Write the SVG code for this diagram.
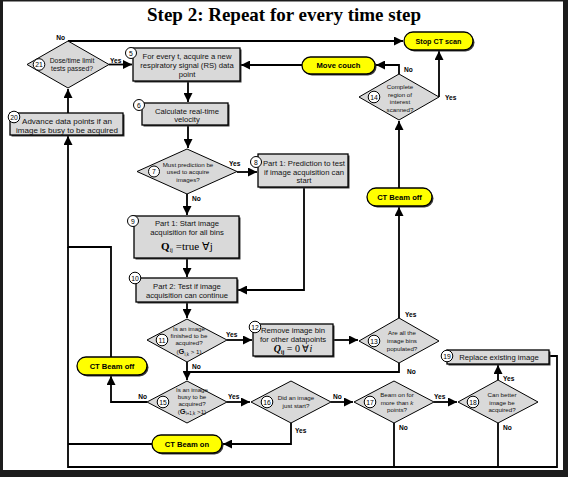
<svg xmlns="http://www.w3.org/2000/svg" width="568" height="477" viewBox="0 0 568 477">
<defs>
<marker id="ah" viewBox="0 0 10 10" refX="10" refY="5" markerWidth="9" markerHeight="9" markerUnits="userSpaceOnUse" orient="auto"><path d="M0,0 L10,5 L0,10 z" fill="#000"/></marker>
</defs>
<style>
.box{fill:#d9d9d9;stroke:#000;stroke-width:1.3}
.sh{fill:#3a3a3a}
.dia{fill:#d9d9d9;stroke:#000;stroke-width:1}
.term{fill:#ffff00;stroke:#000;stroke-width:1.3}
.num{fill:#fff;stroke:#000;stroke-width:1}
.t{font-family:"Liberation Sans",Arial,sans-serif;font-size:7.7px;fill:#111;text-anchor:middle}
.td{font-family:"Liberation Sans",Arial,sans-serif;font-size:6.2px;fill:#111;text-anchor:middle}
.tt{font-family:"Liberation Sans",Arial,sans-serif;font-size:7.6px;font-weight:bold;fill:#000;text-anchor:middle}
.tn{font-family:"Liberation Sans",Arial,sans-serif;font-size:6.8px;fill:#000;text-anchor:middle}
.lb{font-family:"Liberation Sans",Arial,sans-serif;font-size:6.6px;font-weight:bold;fill:#000}
.f{font-family:"Liberation Serif","Times New Roman",serif;fill:#000;text-anchor:middle}
.c{fill:none;stroke:#000;stroke-width:1.8}
.ca{fill:none;stroke:#000;stroke-width:1.8;marker-end:url(#ah)}
</style>
<rect width="568" height="477" fill="#1c1c1c"/>
<rect x="3" y="1.5" width="560" height="468.5" fill="#fff"/>
<text x="284" y="21" font-family="Liberation Serif,'Times New Roman',serif" font-size="19" font-weight="bold" text-anchor="middle" fill="#000">Step 2: Repeat for every time step</text>

<g id="connectors">
<path class="ca" d="M68,41 H403"/>
<path class="ca" d="M109,64.5 H132"/>
<path class="ca" d="M302,65 H241"/>
<path class="ca" d="M399,74 V65 H376"/>
<path class="ca" d="M439,97 V51"/>
<path class="ca" d="M188,81 V102"/>
<path class="ca" d="M188,125 V148"/>
<path class="ca" d="M237,172 H257"/>
<path class="ca" d="M187,194 V215"/>
<path class="ca" d="M187,258 V277"/>
<path class="ca" d="M304,187 V290 H238"/>
<path class="ca" d="M187,302 V318"/>
<path class="ca" d="M227,340 H252"/>
<path class="ca" d="M187,362 V380"/>
<path class="ca" d="M333,340 H358"/>
<path class="ca" d="M399,318 V207"/>
<path class="ca" d="M399,188 V121"/>
<path class="c" d="M399,363 V372 H187"/>
<path class="ca" d="M227,402 H250"/>
<path class="ca" d="M147,402 H111 V376"/>
<path class="ca" d="M111,357 V247 H68 V136"/>
<path class="ca" d="M291,423 V444 H223"/>
<path class="c" d="M152,444 H68"/>
<path class="ca" d="M331,402 H353"/>
<path class="ca" d="M434,402 H457"/>
<path class="c" d="M394,423 V467"/>
<path class="ca" d="M498,380 V365"/>
<path class="c" d="M498,423 V467"/>
<path class="c" d="M549,356 H557 V467 H68 V247"/>
<path class="ca" d="M68,113 V89"/>
<text class="lb" x="65" y="40" text-anchor="end">No</text>
<text class="lb" x="110" y="62.5">Yes</text>
<text class="lb" x="404" y="72">No</text>
<text class="lb" x="445" y="99.5">Yes</text>
<text class="lb" x="229" y="166">Yes</text>
<text class="lb" x="192" y="200.5">No</text>
<text class="lb" x="226" y="337">Yes</text>
<text class="lb" x="192" y="368.5">No</text>
<text class="lb" x="405" y="317">Yes</text>
<text class="lb" x="407" y="373.5">No</text>
<text class="lb" x="147" y="399" text-anchor="end">No</text>
<text class="lb" x="228" y="399">Yes</text>
<text class="lb" x="295" y="433">Yes</text>
<text class="lb" x="333" y="399">No</text>
<text class="lb" x="434" y="399">Yes</text>
<text class="lb" x="399" y="430">No</text>
<text class="lb" x="503" y="381">Yes</text>
<text class="lb" x="503" y="430">No</text>
</g>

<g id="n21">
<polygon class="dia" points="68,41 109,64.5 68,88 27,64.5"/>
<text class="td" style="font-size:6.8px" x="72" y="63">Dose/time limit</text>
<text class="td" style="font-size:6.8px" x="72" y="70.5">tests passed?</text>
<circle class="num" cx="39" cy="64.5" r="5.8"/><text class="tn" x="39" y="67">21</text>
</g>
<g id="n5">
<rect class="sh" x="134.5" y="49.5" width="107" height="33"/>
<rect class="box" x="133" y="48" width="107" height="33"/>
<text class="t" x="187" y="58.7">For every t, acquire a new</text>
<text class="t" x="187" y="67.7">respiratory signal (RS) data</text>
<text class="t" x="187" y="76.7">point</text>
<circle class="num" cx="131" cy="53" r="5.5"/><text class="tn" x="131" y="55.5">5</text>
</g>
<g id="n6">
<rect class="sh" x="143.5" y="104.5" width="86" height="22"/>
<rect class="box" x="142" y="103" width="86" height="22"/>
<text class="t" x="187" y="113.7">Calculate real-time</text>
<text class="t" x="187" y="121.7">velocity</text>
<circle class="num" cx="139" cy="105" r="5.5"/><text class="tn" x="139" y="107.5">6</text>
</g>
<g id="n20">
<rect class="sh" x="11.5" y="114.5" width="113" height="22"/>
<rect class="box" x="10" y="113" width="113" height="22"/>
<text class="t" style="font-size:8px" x="67" y="123.7">Advance data points if an</text>
<text class="t" style="font-size:8px" x="67" y="132.7">image is busy to be acquired</text>
<circle class="num" cx="14" cy="117" r="5.8"/><text class="tn" x="14" y="119.5">20</text>
</g>
<g id="n7">
<polygon class="dia" points="187,149 237,171.5 187,194 137,171.5"/>
<text class="td" x="188" y="167">Must prediction be</text>
<text class="td" x="188" y="174.3">used to acquire</text>
<text class="td" x="188" y="181.5">images?</text>
<circle class="num" cx="154" cy="171.5" r="5.5"/><text class="tn" x="154" y="174">7</text>
</g>
<g id="n8">
<rect class="sh" x="259.5" y="155.5" width="90" height="33"/>
<rect class="box" x="258" y="154" width="90" height="33"/>
<text class="t" x="304" y="166">Part 1: Prediction to test</text>
<text class="t" x="304" y="174.5">if image acquisition can</text>
<text class="t" x="304" y="183.3">start</text>
<circle class="num" cx="256" cy="162" r="5.5"/><text class="tn" x="256" y="164.5">8</text>
</g>
<g id="n9">
<rect class="sh" x="135.5" y="217.5" width="105" height="42"/>
<rect class="box" x="134" y="216" width="105" height="42"/>
<text class="t" x="187" y="225.5">Part 1: Start image</text>
<text class="t" x="187" y="234.5">acquisition for all bins</text>
<text class="f" x="187" y="250" font-size="11"><tspan font-weight="bold">Q</tspan><tspan font-size="6" dy="2">ij</tspan><tspan dy="-2"> =true ∀j</tspan></text>
<circle class="num" cx="133" cy="221" r="5.5"/><text class="tn" x="133" y="223.5">9</text>
</g>
<g id="n10">
<rect class="sh" x="137.5" y="279.5" width="101" height="24"/>
<rect class="box" x="136" y="278" width="101" height="24"/>
<text class="t" x="187" y="288.7">Part 2: Test if image</text>
<text class="t" x="187" y="297.7">acquisition can continue</text>
<circle class="num" cx="135" cy="278" r="5.8"/><text class="tn" x="135" y="280.5">10</text>
</g>
<g id="n11">
<polygon class="dia" points="187,319 227,340 187,362 147,340"/>
<text class="td" x="189" y="331">Is an image</text>
<text class="td" x="189" y="338">finished to be</text>
<text class="td" x="189" y="345">acquired?</text>
<text class="td" x="189" y="354">(<tspan font-weight="bold" font-size="7.5">G</tspan><tspan font-size="4.5" dy="1.5">i,k</tspan><tspan dy="-1.5"> &gt; 1)</tspan></text>
<circle class="num" cx="162" cy="340" r="5.8"/><text class="tn" x="162" y="342.5">11</text>
</g>
<g id="n12">
<rect class="sh" x="254.5" y="325.5" width="80" height="32"/>
<rect class="box" x="253" y="324" width="80" height="32"/>
<text class="t" x="293" y="333">Remove image bin</text>
<text class="t" x="293" y="342">for other datapoints</text>
<text class="f" x="293" y="352" font-size="10"><tspan font-weight="bold" font-style="italic">Q</tspan><tspan font-size="5.5" font-weight="bold" dy="2">ij</tspan><tspan dy="-2"> = 0 ∀<tspan font-style="italic">i</tspan></tspan></text>
<circle class="num" cx="255" cy="327" r="5.8"/><text class="tn" x="255" y="329.5">12</text>
</g>
<g id="n13">
<polygon class="dia" points="399,318 439,341 399,363 359,341"/>
<text class="td" x="402" y="335">Are all the</text>
<text class="td" x="402" y="343">image bins</text>
<text class="td" x="402" y="351">populated?</text>
<circle class="num" cx="374" cy="341" r="5.8"/><text class="tn" x="374" y="343.5">13</text>
</g>
<g id="n14">
<polygon class="dia" points="399,74 439,97 399,120 359,97"/>
<text class="td" x="400" y="89">Complete</text>
<text class="td" x="400" y="96.5">region of</text>
<text class="td" x="400" y="104">interest</text>
<text class="td" x="400" y="111.5">scanned?</text>
<circle class="num" cx="374" cy="97" r="5.8"/><text class="tn" x="374" y="99.5">14</text>
</g>
<g id="n15">
<polygon class="dia" points="187,381 227,402 187,423 147,402"/>
<text class="td" x="192" y="392">Is an image</text>
<text class="td" x="192" y="399">busy to be</text>
<text class="td" x="192" y="406">acquired?</text>
<text class="td" x="192" y="413.5">(<tspan font-weight="bold" font-size="7.5">G</tspan><tspan font-size="4.5" dy="1.5">i+1,k</tspan><tspan dy="-1.5"> &gt;1)</tspan></text>
<circle class="num" cx="163" cy="402" r="5.8"/><text class="tn" x="163" y="404.5">15</text>
</g>
<g id="n16">
<polygon class="dia" points="291,381 331,402 291,423 251,402"/>
<text class="td" x="296" y="400">Did an image</text>
<text class="td" x="296" y="407.5">just start?</text>
<circle class="num" cx="267" cy="402" r="5.8"/><text class="tn" x="267" y="404.5">16</text>
</g>
<g id="n17">
<polygon class="dia" points="394,381 434,402 394,423 354,402"/>
<text class="td" x="397" y="397">Beam on for</text>
<text class="td" x="397" y="404.5">more than <tspan font-style="italic">k</tspan></text>
<text class="td" x="397" y="412">points?</text>
<circle class="num" cx="370" cy="402" r="5.8"/><text class="tn" x="370" y="404.5">17</text>
</g>
<g id="n18">
<polygon class="dia" points="498,380 538,402 498,423 458,402"/>
<text class="td" x="502" y="397">Can better</text>
<text class="td" x="502" y="404.5">image be</text>
<text class="td" x="502" y="412">acquired?</text>
<circle class="num" cx="473" cy="402" r="5.8"/><text class="tn" x="473" y="404.5">18</text>
</g>
<g id="n19">
<rect class="sh" x="448.5" y="351.5" width="102" height="14"/>
<rect class="box" x="447" y="350" width="102" height="14"/>
<text class="t" x="499" y="360">Replace existing image</text>
<circle class="num" cx="447" cy="356" r="5.8"/><text class="tn" x="447" y="358.5">19</text>
</g>
<g id="stop">
<rect class="sh" x="405.5" y="33.5" width="69" height="18" rx="9"/>
<rect class="term" x="404" y="32" width="69" height="18" rx="9"/>
<text class="tt" style="font-size:7.2px" x="438.5" y="43.6">Stop CT scan</text>
</g>
<g id="move">
<rect class="sh" x="303.5" y="58.5" width="73" height="17" rx="8.5"/>
<rect class="term" x="302" y="57" width="73" height="17" rx="8.5"/>
<text class="tt" x="338.5" y="68.2">Move couch</text>
</g>
<g id="beamoff1">
<rect class="sh" x="368.5" y="189.5" width="65" height="18" rx="9"/>
<rect class="term" x="367" y="188" width="65" height="18" rx="9"/>
<text class="tt" x="399.5" y="199.7">CT Beam off</text>
</g>
<g id="beamoff2">
<rect class="sh" x="78.5" y="358.5" width="70" height="18" rx="9"/>
<rect class="term" x="77" y="357" width="70" height="18" rx="9"/>
<text class="tt" x="112" y="368.7">CT Beam off</text>
</g>
<g id="beamon">
<rect class="sh" x="153.5" y="436.5" width="70" height="18" rx="9"/>
<rect class="term" x="152" y="435" width="70" height="18" rx="9"/>
<text class="tt" x="187" y="446.7">CT Beam on</text>
</g>
</svg>
